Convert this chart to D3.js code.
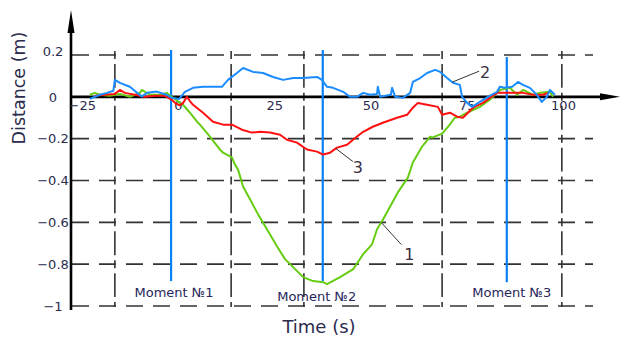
<!DOCTYPE html>
<html>
<head>
<meta charset="utf-8">
<script src="https://cdn.jsdelivr.net/npm/d3@7"></script>
<style>
  html, body { margin: 0; padding: 0; background: #fff; }
  svg { display: block; font-family: "DejaVu Sans", Verdana, sans-serif; }
</style>
</head>
<body>
<svg id="chart" width="621" height="339"></svg>
<script>
// Measured displacement of the three tracked points, [time (s), distance (m)]
const curve1 = [[-22.9,0.010],[-21.6,0.019],[-20.3,0.010],[-17.7,0.005],[-15.1,0.014],[-12.5,0.000],[-9.9,0.019],[-9.4,0.033],[-7.3,0.010],[-4.7,0.010],[-2.9,0.019],[-2.1,0.005],[-0.8,-0.010],[0.5,-0.029],[1.3,-0.038],[3.1,-0.076],[5.2,-0.124],[5.7,-0.133],[8.3,-0.190],[10.9,-0.252],[11.7,-0.267],[14.0,-0.290],[14.8,-0.324],[15.6,-0.348],[16.9,-0.429],[18.7,-0.490],[20.8,-0.562],[23.1,-0.633],[25.7,-0.714],[27.8,-0.776],[29.9,-0.814],[32.5,-0.862],[35.1,-0.881],[37.7,-0.886],[38.7,-0.895],[42.1,-0.862],[45.5,-0.824],[48.1,-0.752],[50.4,-0.705],[51.7,-0.633],[53.0,-0.595],[55.1,-0.524],[57.1,-0.457],[59.7,-0.386],[61.0,-0.314],[63.4,-0.238],[65.5,-0.190],[66.0,-0.195],[68.6,-0.176],[70.6,-0.133],[71.9,-0.100],[73.2,-0.095],[75.1,-0.076],[78.4,-0.048],[81.0,-0.014],[83.6,0.033],[86.2,0.043],[88.1,0.010],[89.6,0.033],[92.2,0.010],[94.0,0.019],[96.6,0.024],[97.4,0.000]];

const curve2 = [[-22.9,-0.010],[-20.3,0.010],[-18.4,0.019],[-16.8,0.029],[-16.4,0.081],[-15.1,0.067],[-12.5,0.048],[-11.0,0.025],[-9.4,0.002],[-8.0,0.019],[-5.5,0.025],[-3.0,0.010],[-1.6,-0.005],[0.3,-0.010],[1.8,0.024],[3.9,0.043],[6.5,0.048],[9.1,0.048],[11.4,0.048],[13.0,0.081],[15.3,0.114],[16.9,0.138],[19.5,0.119],[22.1,0.114],[24.7,0.095],[27.3,0.081],[29.9,0.090],[32.5,0.090],[36.1,0.095],[37.4,0.081],[38.7,0.048],[40.3,0.043],[42.9,0.024],[44.7,0.000],[46.5,0.000],[48.1,0.019],[49.9,0.010],[51.7,0.014],[51.9,0.048],[52.5,0.000],[55.3,0.010],[55.6,0.043],[56.4,0.000],[58.4,-0.005],[60.3,0.019],[61.0,0.071],[62.9,0.090],[64.7,0.114],[66.8,0.129],[68.1,0.119],[69.9,0.090],[71.4,0.067],[73.2,0.057],[73.8,0.000],[75.1,-0.029],[76.4,-0.048],[78.4,-0.024],[80.5,0.000],[82.9,0.024],[83.6,0.048],[84.9,0.043],[86.8,0.048],[88.3,0.071],[89.6,0.057],[91.4,0.043],[93.2,0.010],[94.5,-0.024],[95.8,0.000],[96.6,0.033],[97.9,0.010]];

const curve3 = [[-21.6,0.005],[-19.0,0.010],[-16.4,0.014],[-15.1,0.033],[-13.8,0.019],[-11.2,0.010],[-8.6,0.000],[-6.0,0.005],[-3.4,0.005],[-1.6,-0.014],[-0.5,-0.033],[0.5,-0.040],[1.3,-0.030],[2.3,0.000],[3.1,-0.020],[3.9,-0.038],[6.5,-0.076],[9.1,-0.119],[11.7,-0.133],[14.0,-0.133],[16.6,-0.157],[19.2,-0.171],[21.3,-0.167],[23.9,-0.171],[26.5,-0.181],[28.3,-0.205],[30.9,-0.219],[33.5,-0.252],[36.1,-0.262],[37.7,-0.276],[39.5,-0.267],[41.3,-0.243],[43.9,-0.229],[46.5,-0.190],[48.1,-0.167],[50.6,-0.143],[53.2,-0.124],[56.9,-0.100],[59.5,-0.086],[61.0,-0.052],[62.3,-0.029],[64.7,-0.038],[67.5,-0.048],[68.6,-0.086],[70.6,-0.076],[72.5,-0.095],[74.0,-0.100],[76.6,-0.052],[79.2,-0.029],[81.0,-0.005],[82.9,0.019],[86.2,0.019],[89.6,0.019],[92.2,0.010],[94.8,0.010],[96.1,0.019]];

const curveNames = ["1", "2", "3"];
const curveColors = ["#66cc11", "#1a8cff", "#ff1010"];
const labelAnchorTimes = [52.8, 71.2, 41.0];

const xTicks = [-25, 0, 25, 50, 75, 100];
const yTicks = [0.2, 0, -0.2, -0.4, -0.6, -0.8, -1];
const yGrid = [0.2, -0.2, -0.4, -0.6, -0.8, -1];
const xGrid = [-16.4, 13.8, 32.7, 68.6, 99.7];

const momentNames = ["Moment №1", "Moment №2", "Moment №3"];
const momentTimes = [-1.8, 37.6, 85.4];
const momentTop = [0.224, 0.224, 0.19];
const momentBottom = [-0.881, -0.881, -0.886];

const svg = d3.select("#chart");
const x = d3.scaleLinear().domain([0, 100]).range([178, 563]);
const y = d3.scaleLinear().domain([0.2, -1]).range([55, 306]);
const axisX = 71;
const textColor = "#2b2b4e";

// dashed grid
const grid = svg.append("g").attr("stroke", "#333").attr("stroke-width", 1.6).attr("fill", "none");
grid.selectAll("line.h").data(yGrid).join("line")
  .attr("x1", axisX).attr("x2", 593)
  .attr("y1", d => y(d)).attr("y2", d => y(d))
  .attr("stroke-dasharray", "17,10").attr("stroke-dashoffset", -1);
const vStep = y(-0.2) - y(0);
grid.selectAll("line.v").data(xGrid).join("line")
  .attr("x1", d => x(d)).attr("x2", d => x(d))
  .attr("y1", y(0.2) - 4).attr("y2", y(-1) + 1)
  .attr("stroke-dasharray", `8,5,${vStep - 18},5`);

// axes with arrows
const axes = svg.append("g");
axes.append("line").attr("x1", axisX).attr("x2", axisX).attr("y1", 22).attr("y2", 310)
  .attr("stroke", "#000").attr("stroke-width", 2.6);
axes.append("path").attr("d", `M${axisX},10 L${axisX + 3.5},33 L${axisX - 3.5},33 Z`).attr("fill", "#000");
axes.append("line").attr("x1", axisX).attr("x2", 606).attr("y1", y(0)).attr("y2", y(0))
  .attr("stroke", "#000").attr("stroke-width", 2.6);
axes.append("path").attr("d", `M620,${y(0)} L600,${y(0) - 3.5} L600,${y(0) + 3.5} Z`).attr("fill", "#000");

// tick labels through d3 axes
const xAxisG = svg.append("g").attr("transform", `translate(0,${y(0)})`)
  .call(d3.axisBottom(x).tickValues(xTicks).tickSize(0).tickPadding(4).tickFormat(d3.format("d")));
xAxisG.select(".domain").remove();
xAxisG.selectAll("text").attr("font-size", 13).attr("fill", textColor)
  .attr("font-family", "DejaVu Sans, Verdana, sans-serif");

const yAxisG = svg.append("g").attr("transform", `translate(${axisX},0)`)
  .call(d3.axisLeft(y).tickValues(yTicks).tickSize(0).tickFormat(d => d === 0 ? "0" : d3.format("~g")(d)));
yAxisG.select(".domain").remove();
yAxisG.selectAll("text").attr("font-size", 13).attr("fill", textColor)
  .attr("text-anchor", "middle").attr("x", -18)
  .attr("font-family", "DejaVu Sans, Verdana, sans-serif");
yAxisG.selectAll(".tick").filter(d => d === 0.2).select("text").attr("dy", "0.0em");

// moment markers
const moments = svg.append("g");
moments.selectAll("line").data(momentTimes).join("line")
  .attr("x1", d => x(d)).attr("x2", d => x(d))
  .attr("y1", (d, i) => y(momentTop[i])).attr("y2", (d, i) => y(momentBottom[i]))
  .attr("stroke", "#0a80f5").attr("stroke-width", 2.2);
const momentDx = [3, -6, 5];
const momentBase = [297, 301, 297];
moments.selectAll("text").data(momentNames).join("text")
  .attr("x", (d, i) => x(momentTimes[i]) + momentDx[i])
  .attr("y", (d, i) => momentBase[i])
  .attr("text-anchor", "middle").attr("font-size", 13).attr("fill", "#26265a")
  .text(d => d);

// measured curves
const curves = [curve1, curve2, curve3];
const line = d3.line().x(d => x(d[0])).y(d => y(d[1]));
const drawOrder = [0, 2, 1];
svg.append("g").selectAll("path").data(drawOrder).join("path")
  .attr("d", i => line(curves[i]))
  .attr("fill", "none").attr("stroke", i => curveColors[i])
  .attr("stroke-width", 2).attr("stroke-linejoin", "round");

// curve numbering with leader lines
function valueAt(data, t) {
  const i = d3.bisector(d => d[0]).left(data, t);
  const a = data[Math.max(0, i - 1)], b = data[Math.min(data.length - 1, i)];
  if (a[0] === b[0]) return a[1];
  return a[1] + (b[1] - a[1]) * (t - a[0]) / (b[0] - a[0]);
}
const leaderEnd = [[20, 22], [27, -11], [17, 13]];
const labelOffset = [[28, 32], [33, -10], [22, 19]];
const notes = svg.append("g");
curves.forEach((data, i) => {
  const t = labelAnchorTimes[i];
  const px = x(t), py = y(valueAt(data, t));
  notes.append("line").attr("x1", px).attr("y1", py)
    .attr("x2", px + leaderEnd[i][0]).attr("y2", py + leaderEnd[i][1])
    .attr("stroke", "#333").attr("stroke-width", 1);
  notes.append("text").attr("x", px + labelOffset[i][0]).attr("y", py + labelOffset[i][1])
    .attr("dy", "0.36em").attr("text-anchor", "middle")
    .attr("font-size", 16).attr("fill", "#3a3040").text(curveNames[i]);
});

// axis titles
svg.append("text").attr("transform", "translate(25,88) rotate(-90)")
  .attr("text-anchor", "middle").attr("font-size", 17.5).attr("fill", textColor)
  .text("Distance (m)");
svg.append("text").attr("x", 319).attr("y", 333)
  .attr("text-anchor", "middle").attr("font-size", 18).attr("fill", textColor)
  .text("Time (s)");
</script>
</body>
</html>
